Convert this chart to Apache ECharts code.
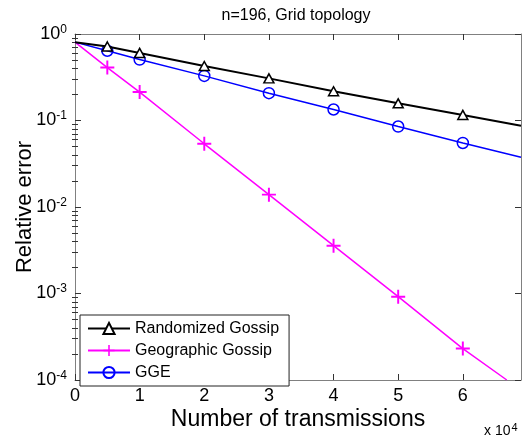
<!DOCTYPE html>
<html>
<head>
<meta charset="utf-8">
<script src="https://cdn.jsdelivr.net/npm/echarts@6/dist/echarts.min.js"></script>
<style>html,body{margin:0;padding:0;background:#fff;}#c{width:526px;height:436px;}</style>
</head>
<body>
<div id="c"></div>
<script>
// ---- data ----
const xValues = [0, 5000, 10000, 20000, 30000, 40000, 50000, 60000];
const randomizedGossip = [0.805, 0.718, 0.604, 0.426, 0.307, 0.218, 0.158, 0.116];
const geographicGossip = [0.805, 0.409, 0.213, 0.0538, 0.0139, 0.00357, 0.000919, 0.000231];
const gge = [0.805, 0.641, 0.507, 0.328, 0.207, 0.134, 0.0852, 0.0550];
const randomizedEnd = [69000, 0.087];
const geographicEnd = [66800, 0.0001];
const ggeEnd = [69000, 0.0375];
const seriesNames = ['Randomized Gossip', 'Geographic Gossip', 'GGE'];
const xTickValues = [0, 10000, 20000, 30000, 40000, 50000, 60000];
const yMajorTicks = [0.0001, 0.001, 0.01, 0.1, 1];
const yMinorTicks = [];
[0.0001, 0.001, 0.01, 0.1].forEach(d => { for (let k = 2; k <= 9; k++) yMinorTicks.push(+(d * k).toPrecision(3)); });

const FONT = 'Liberation Sans, Arial, Helvetica, sans-serif';
const AXIS_COLOR = '#808080';

function buildData(arr, end) {
  const d = xValues.map((x, i) => {
    const item = { value: [x, arr[i]] };
    if (i === 0) item.symbol = 'none';
    return item;
  });
  d.push({ value: end, symbol: 'none' });
  return d;
}

const chart = echarts.init(document.getElementById('c'), null, { renderer: 'canvas' });

const plusPath = 'path://M4.3,0H5.7V4.3H10V5.7H5.7V10H4.3V5.7H0V4.3H4.3Z';

const option = {
  animation: false,
  backgroundColor: '#fff',
  textStyle: { fontFamily: FONT },
  grid: { left: 75, right: 5, top: 34, bottom: 49, containLabel: false },
  legend: {
    orient: 'vertical',
    left: 80, top: 315,
    data: seriesNames,
    backgroundColor: '#fff',
    borderColor: '#222',
    borderWidth: 1,
    borderRadius: 0,
    padding: [4, 10, 4, 7],
    itemGap: 3,
    itemWidth: 42,
    itemHeight: 14,
    textStyle: { fontSize: 16, color: '#000', fontFamily: FONT, lineHeight: 19, padding: [0, 0, 0, 0] }
  },
  graphic: [
    { type: 'text', x: 296, y: 16, style: { text: 'n=196, Grid topology', font: '16px ' + FONT, fill: '#000', textAlign: 'center', textVerticalAlign: 'middle' } },
    { type: 'text', x: 484, y: 422, style: {
        text: '{a|x 10}{b|4}',
        rich: { a: { fontSize: 14, fontFamily: FONT, fill: '#000' }, b: { fontSize: 11, fontFamily: FONT, fill: '#000', verticalAlign: 'top', padding: [0, 0, 8, 1] } },
        textVerticalAlign: 'top' } }
  ],
  xAxis: [
    {
      type: 'value', min: 0, max: 69000, interval: 10000,
      name: 'Number of transmissions', nameLocation: 'middle', nameGap: 28, nameMoveOverlap: false,
      nameTextStyle: { fontSize: 23, color: '#000', fontFamily: FONT },
      axisLine: { show: true, lineStyle: { color: AXIS_COLOR, width: 1 } },
      axisTick: { show: true, inside: true, length: 6, lineStyle: { color: '#333' }, customValues: xTickValues },
      axisLabel: { show: true, fontSize: 18, color: '#000', margin: 7, fontFamily: FONT, customValues: xTickValues,
        formatter: v => String(v / 10000) },
      splitLine: { show: false }
    },
    {
      type: 'value', position: 'top', min: 0, max: 69000, interval: 10000,
      axisLine: { show: true, onZero: false, lineStyle: { color: AXIS_COLOR, width: 1 } },
      axisTick: { show: true, inside: true, length: 6, lineStyle: { color: '#333' }, customValues: xTickValues },
      axisLabel: { show: false },
      splitLine: { show: false }
    }
  ],
  yAxis: [
    {
      type: 'log', logBase: 10, min: 0.0001, max: 1,
      name: 'Relative error', nameLocation: 'middle', nameGap: 39, nameMoveOverlap: false,
      nameTextStyle: { fontSize: 22, color: '#000', fontFamily: FONT },
      axisLine: { show: true, onZero: false, lineStyle: { color: AXIS_COLOR, width: 1 } },
      axisTick: { show: true, inside: true, length: 6, lineStyle: { color: '#333' }, customValues: yMajorTicks },
      axisLabel: {
        show: true, margin: 8, customValues: yMajorTicks,
        formatter: v => '{b|10}{s|' + Math.round(Math.log10(v)) + '}',
        rich: {
          b: { fontSize: 18, color: '#000', fontFamily: FONT },
          s: { fontSize: 12, color: '#000', fontFamily: FONT, verticalAlign: 'top', padding: [0, 0, 9, 0] }
        }
      },
      splitLine: { show: false }
    },
    {
      type: 'log', logBase: 10, min: 0.0001, max: 1, position: 'right',
      axisLine: { show: true, onZero: false, lineStyle: { color: AXIS_COLOR, width: 1 } },
      axisTick: { show: true, inside: true, length: 6, lineStyle: { color: '#333' }, customValues: yMajorTicks },
      axisLabel: { show: false },
      splitLine: { show: false }
    },
    {
      type: 'log', logBase: 10, min: 0.0001, max: 1, position: 'left',
      axisLine: { show: false },
      axisTick: { show: true, inside: true, length: 3, lineStyle: { color: '#333' }, customValues: yMinorTicks },
      axisLabel: { show: false },
      splitLine: { show: false }
    },
    {
      type: 'log', logBase: 10, min: 0.0001, max: 1, position: 'right',
      axisLine: { show: false },
      axisTick: { show: true, inside: true, length: 3, lineStyle: { color: '#333' }, customValues: yMinorTicks },
      axisLabel: { show: false },
      splitLine: { show: false }
    }
  ],
  series: [
    {
      name: seriesNames[0], type: 'line', xAxisIndex: 0, yAxisIndex: 0,
      data: buildData(randomizedGossip, randomizedEnd),
      symbol: 'triangle', symbolSize: [10, 9], showSymbol: true, clip: true,
      lineStyle: { color: '#000', width: 2 },
      itemStyle: { color: '#fff', borderColor: '#000', borderWidth: 1.5 },
      emphasis: { disabled: true }, z: 3
    },
    {
      name: seriesNames[1], type: 'line', xAxisIndex: 0, yAxisIndex: 0,
      data: buildData(geographicGossip, geographicEnd),
      symbol: plusPath, symbolSize: 14, showSymbol: true, clip: true,
      lineStyle: { color: '#ff00ff', width: 1.5 },
      itemStyle: { color: '#ff00ff', borderWidth: 0 },
      emphasis: { disabled: true }, z: 2
    },
    {
      name: seriesNames[2], type: 'line', xAxisIndex: 0, yAxisIndex: 0,
      data: buildData(gge, ggeEnd),
      symbol: 'circle', symbolSize: 11, showSymbol: true, clip: true,
      lineStyle: { color: '#0000ff', width: 1.5 },
      itemStyle: { color: 'rgba(255,255,255,0)', borderColor: '#0000ff', borderWidth: 1.5 },
      emphasis: { disabled: true }, z: 2
    }
  ]
};
chart.setOption(option);
</script>
</body>
</html>
